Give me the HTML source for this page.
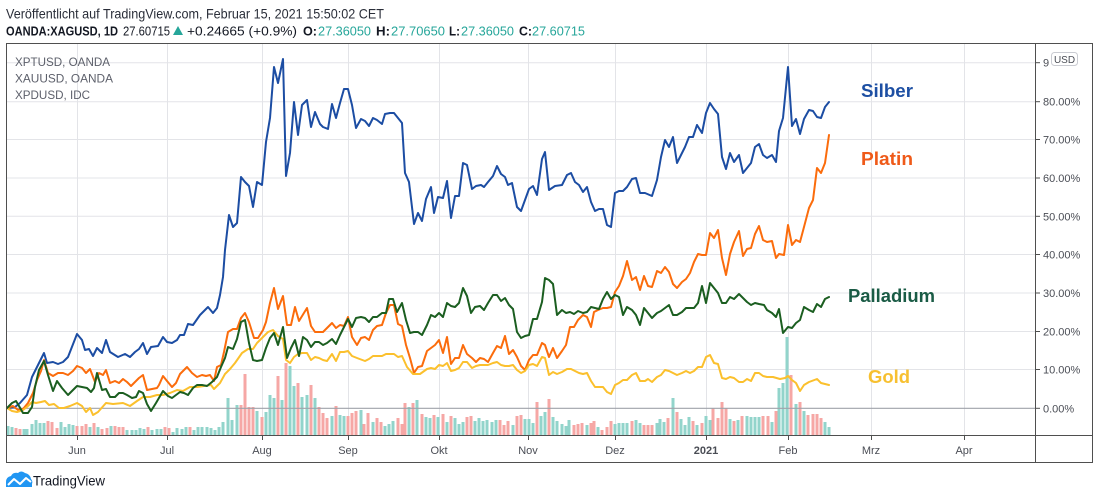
<!DOCTYPE html>
<html>
<head>
<meta charset="utf-8">
<style>
html,body{margin:0;padding:0;background:#fff;}
svg{display:block;}
text{font-family:"Liberation Sans",Arial,sans-serif;}
</style>
</head>
<body>
<svg width="1100" height="499" viewBox="0 0 1100 499" xmlns="http://www.w3.org/2000/svg">
<rect x="0" y="0" width="1100" height="499" fill="#fff"/>

<!-- header -->
<text x="6" y="18.5" font-size="14" fill="#2a2e39" textLength="378" lengthAdjust="spacingAndGlyphs">Veröffentlicht auf TradingView.com, Februar 15, 2021 15:50:02 CET</text>
<text x="6" y="35.5" font-size="12.5" font-weight="bold" fill="#131722" textLength="112" lengthAdjust="spacingAndGlyphs">OANDA:XAGUSD, 1D</text>
<text x="123" y="35.5" font-size="13" fill="#131722" textLength="47" lengthAdjust="spacingAndGlyphs">27.60715</text>
<polygon points="173,35 178,26 183,35" fill="#26a69a"/>
<text x="187" y="35.5" font-size="13" fill="#131722" textLength="110" lengthAdjust="spacingAndGlyphs">+0.24665 (+0.9%)</text>
<text x="303" y="35.5" font-size="13" font-weight="bold" fill="#131722" textLength="14" lengthAdjust="spacingAndGlyphs">O:</text>
<text x="318" y="35.5" font-size="13" fill="#26a69a" textLength="53" lengthAdjust="spacingAndGlyphs">27.36050</text>
<text x="376" y="35.5" font-size="13" font-weight="bold" fill="#131722" textLength="14" lengthAdjust="spacingAndGlyphs">H:</text>
<text x="391" y="35.5" font-size="13" fill="#26a69a" textLength="54" lengthAdjust="spacingAndGlyphs">27.70650</text>
<text x="449" y="35.5" font-size="13" font-weight="bold" fill="#131722" textLength="11" lengthAdjust="spacingAndGlyphs">L:</text>
<text x="461" y="35.5" font-size="13" fill="#26a69a" textLength="53" lengthAdjust="spacingAndGlyphs">27.36050</text>
<text x="519" y="35.5" font-size="13" font-weight="bold" fill="#131722" textLength="13" lengthAdjust="spacingAndGlyphs">C:</text>
<text x="532" y="35.5" font-size="13" fill="#26a69a" textLength="53" lengthAdjust="spacingAndGlyphs">27.60715</text>

<!-- grid horizontal -->
<g stroke="#e3e4e8" stroke-width="1">
<line x1="7" y1="62.7" x2="1035" y2="62.7"/>
<line x1="7" y1="101.7" x2="1035" y2="101.7"/>
<line x1="7" y1="139.5" x2="1035" y2="139.5"/>
<line x1="7" y1="178" x2="1035" y2="178"/>
<line x1="7" y1="216.3" x2="1035" y2="216.3"/>
<line x1="7" y1="254.5" x2="1035" y2="254.5"/>
<line x1="7" y1="293" x2="1035" y2="293"/>
<line x1="7" y1="331.5" x2="1035" y2="331.5"/>
<line x1="7" y1="369.5" x2="1035" y2="369.5"/>
</g>
<!-- grid vertical -->
<g stroke="#e3e4e8" stroke-width="1">
<line x1="77.5" y1="44" x2="77.5" y2="435"/>
<line x1="167.5" y1="44" x2="167.5" y2="435"/>
<line x1="262.5" y1="44" x2="262.5" y2="435"/>
<line x1="348.5" y1="44" x2="348.5" y2="435"/>
<line x1="439.5" y1="44" x2="439.5" y2="435"/>
<line x1="528.5" y1="44" x2="528.5" y2="435"/>
<line x1="615.5" y1="44" x2="615.5" y2="435"/>
<line x1="706.5" y1="44" x2="706.5" y2="435"/>
<line x1="788.5" y1="44" x2="788.5" y2="435"/>
<line x1="871.5" y1="44" x2="871.5" y2="435"/>
<line x1="964.5" y1="44" x2="964.5" y2="435"/>
</g>

<!-- volume bars -->
<path fill="none" stroke="#92d4cb" stroke-width="3" d="M8 435V426M12 435V427M24 435V429M27 435V429M32 435V424M36 435V420M40 435V423M44 435V423M61 435V422M65 435V427M69 435V424M73 435V425M90 435V427M98 435V427M111 435V426M127 435V430M132 435V430M136 435V430M140 435V428M144 435V429M152 435V430M157 435V429M161 435V429M173 435V432M177 435V428M182 435V429M186 435V427M194 435V430M198 435V427M202 435V427M207 435V427M211 435V428M215 435V430M219 435V427M223 435V422M228 435V398M232 435V420M237 435V405M257 435V411M266 435V412M270 435V395M274 435V398M282 435V400M290 435V366M294 435V386M302 435V397M307 435V395M315 435V398M332 435V416M340 435V415M344 435V416M361 435V410M373 435V422M385 435V426M389 435V424M393 435V421M409 435V407M417 435V400M426 435V417M430 435V418M438 435V417M447 435V422M455 435V418M459 435V424M463 435V422M475 435V421M479 435V418M483 435V421M487 435V420M492 435V422M496 435V420M513 435V425M525 435V419M529 435V419M533 435V423M541 435V416M545 435V412M553 435V417M557 435V421M562 435V424M566 435V426M569 435V420M587 435V425M598 435V427M615 435V424M619 435V423M623 435V423M627 435V423M636 435V420M640 435V423M657 435V423M660 435V419M664 435V422M673 435V398M681 435V419M685 435V425M689 435V417M697 435V425M706 435V416M710 435V420M730 435V419M738 435V420M747 435V416M751 435V417M755 435V417M759 435V417M772 435V422M779 435V388M783 435V383M787 435V337M796 435V404M804 435V411M825 435V422M829 435V427"/>
<path fill="none" stroke="#f6a7a5" stroke-width="3" d="M16 435V428M20 435V429M48 435V421M52 435V422M57 435V428M77 435V426M82 435V426M86 435V424M94 435V423M102 435V429M107 435V428M115 435V426M119 435V427M123 435V427M148 435V427M165 435V427M169 435V428M190 435V427M241 435V405M245 435V374M249 435V407M253 435V407M262 435V417M278 435V376M286 435V363M298 435V383M311 435V385M319 435V407M323 435V413M327 435V418M336 435V406M348 435V416M352 435V413M356 435V411M364 435V424M368 435V413M377 435V418M381 435V422M398 435V418M402 435V424M405 435V403M413 435V403M422 435V414M434 435V415M443 435V414M451 435V416M467 435V417M471 435V416M500 435V420M504 435V425M508 435V421M517 435V416M521 435V415M537 435V402M549 435V399M574 435V425M578 435V424M582 435V423M591 435V423M594 435V421M602 435V430M607 435V427M611 435V421M632 435V421M644 435V425M648 435V425M652 435V425M668 435V418M677 435V412M693 435V421M702 435V423M713 435V408M718 435V418M722 435V402M726 435V408M734 435V421M742 435V416M763 435V416M768 435V416M776 435V411M791 435V375M800 435V402M808 435V415M813 435V414M817 435V414M821 435V418"/>

<!-- zero line -->
<line x1="7" y1="408.3" x2="1035" y2="408.3" stroke="#9fa2aa" stroke-width="1.2"/>

<!-- series -->
<g fill="none" stroke-width="2" stroke-linejoin="round" stroke-linecap="round">
<polyline stroke="#1c4da3" points="7,408 15,407 20,403 27,395 32,377 37,367 42,357 44,353 47,363 53,362 58,364 63,362 68,357 77,334 82,340 85,350 89,349 93,356 97,348 102,353 106,340 110,352 118,357 125,354 130,357 135,352 139,349 143,343 147,354 151,347 158,346 163,337 167,342 172,343 177,340 180,335 184,335 188,324 193,325 200,315 205,310 208,307 213,313 217,308 220,295 223,277 225,250 229,215 233,227 237,223 241,177 245,182 249,186 253,207 257,182 262,185 266,142 270,118 274,67 278,83 283,59 286,176 290,153 294,102 298,135 302,105 307,100 311,127 315,112 320,124 323,127 328,129 332,104 336,118 340,103 344,89 348,89 352,105 356,128 361,119 365,121 369,126 373,118 377,120 382,124 385,114 390,113 394,113 398,118 402,123 405,173 409,182 414,224 418,213 422,221 426,199 431,187 434,213 438,197 443,198 447,181 451,218 455,196 459,196 463,163 467,165 472,189 476,186 481,185 484,187 488,182 493,176 497,166 501,174 505,177 508,185 512,183 517,207 521,211 525,200 529,189 533,186 537,195 542,159 545,152 549,190 555,186 562,185 567,175 571,173 575,182 579,185 583,192 587,187 591,202 595,211 599,209 603,209 607,225 611,227 615,193 619,191 623,191 627,187 632,179 636,178 640,193 645,193 652,196 657,180 661,157 665,140 669,147 673,137 677,163 681,155 685,147 689,137 693,137 697,125 702,133 706,113 710,103 714,109 718,114 722,157 726,169 730,153 734,162 739,155 743,173 747,168 751,163 755,147 759,144 763,155 767,158 772,155 776,162 779,131 783,118 788,67 792,126 796,119 800,134 804,119 809,110 813,111 817,117 821,118 825,107 829,102"/>
<polyline stroke="#fb6c0c" points="7,408 13,406 18,410 23,409 28,403 33,393 37,380 41,371 44,360 48,373 53,376 58,373 63,373 68,375 73,371 77,366 82,368 86,373 90,369 95,382 99,373 103,375 106,370 110,383 115,381 119,383 123,379 127,382 131,386 135,382 139,378 143,375 147,390 152,389 157,388 159,385 163,376 167,381 172,387 176,383 180,374 187,367 192,373 197,377 202,375 206,376 210,375 214,381 217,367 221,365 224,352 228,332 233,329 237,329 241,318 245,313 249,322 254,338 258,338 263,330 266,322 270,303 274,288 278,309 283,296 287,325 291,325 295,307 299,321 307,308 311,326 315,332 323,332 327,328 332,323 336,328 340,325 344,326 348,317 352,337 357,345 361,338 365,337 369,340 373,330 377,326 382,325 386,313 390,305 394,305 398,324 402,326 406,345 410,358 414,373 418,367 422,366 427,351 431,348 435,345 439,340 443,353 447,337 451,364 455,358 459,358 463,345 467,354 472,358 476,362 480,358 484,359 488,362 493,353 497,346 501,348 505,336 509,354 513,350 517,357 521,366 525,370 529,360 533,355 537,355 542,343 545,345 549,357 553,348 557,358 562,351 566,345 570,327 574,327 578,320 583,315 587,317 591,327 594,312 598,310 603,308 607,308 611,307 615,292 619,286 623,276 627,261 632,280 636,277 640,290 644,276 648,286 652,287 657,271 661,273 665,267 669,272 673,284 677,288 682,282 686,279 690,273 694,262 698,254 702,255 706,255 710,233 714,238 718,230 722,258 726,275 730,254 734,242 739,231 743,256 747,249 751,248 755,234 759,226 763,240 767,242 772,241 776,258 779,254 784,255 788,225 792,245 796,240 800,242 804,227 809,208 813,200 817,168 821,173 825,163 829,135"/>
<polyline stroke="#fbc02d" points="7,408 12,411 17,412 23,410 28,406 32,402 36,403 41,402 45,401 49,405 54,404 59,408 64,408 70,406 77,403 82,406 86,412 90,408 93,415 98,412 106,403 113,404 123,403 130,406 137,401 143,397 150,397 157,395 163,395 170,393 177,390 183,391 190,387 197,387 204,386 211,385 214,389 220,383 225,374 230,369 235,363 242,353 248,349 253,349 257,343 263,337 268,332 273,330 278,336 283,339 286,360 290,363 294,357 298,354 302,353 307,353 311,360 315,357 319,358 323,360 327,361 332,354 336,361 340,352 344,352 348,351 352,356 357,358 365,361 369,359 373,356 382,356 386,354 394,354 398,357 402,356 407,367 413,374 420,374 427,369 431,368 435,369 439,365 443,366 447,363 451,371 455,370 459,368 463,362 467,362 472,368 476,366 480,365 484,365 488,365 493,363 497,362 501,365 505,366 509,366 513,365 517,370 521,373 525,371 529,365 533,364 537,366 542,357 545,358 549,375 553,372 557,374 562,372 567,369 571,369 575,371 579,373 583,374 587,373 591,381 595,387 599,387 603,387 607,392 611,394 615,385 619,383 623,380 627,380 632,375 636,373 640,381 645,381 648,379 652,382 657,377 661,375 665,370 669,371 673,373 677,375 682,373 686,371 690,373 694,371 698,367 702,367 706,357 710,355 714,363 718,364 722,378 726,379 730,377 734,378 739,382 743,382 747,379 751,381 755,373 759,373 763,376 767,377 773,377 780,379 785,378 788,376 792,380 796,383 800,391 804,385 809,382 817,379 821,383 829,385"/>
<polyline stroke="#1b5e20" points="7,408 12,403 16,401 19,406 23,413 28,413 32,407 35,387 39,370 44,361 48,375 53,391 57,381 62,388 68,395 77,386 82,387 87,388 91,392 94,388 97,373 102,390 106,389 110,397 115,397 119,393 123,393 127,395 132,398 136,397 139,391 143,393 147,404 151,411 156,403 163,391 168,396 172,398 176,395 180,392 184,393 188,395 193,388 197,385 202,385 207,386 212,382 217,377 221,367 225,358 228,347 233,349 237,339 241,322 245,320 249,343 253,360 257,361 262,360 266,348 270,338 274,333 278,345 283,327 287,358 291,348 295,340 299,356 303,337 307,340 311,347 315,342 319,342 323,345 327,343 332,339 336,344 340,335 344,327 348,319 352,327 356,318 361,317 365,318 369,322 373,317 377,317 382,313 386,313 389,299 393,299 397,312 402,303 406,320 410,333 414,332 418,332 422,335 427,325 431,315 435,317 439,313 443,317 447,303 451,306 455,307 459,303 463,288 467,296 471,313 475,307 480,306 484,310 488,303 493,295 497,295 501,301 505,298 509,305 513,309 517,332 521,338 525,336 529,335 533,319 537,319 542,302 545,278 549,280 553,284 557,315 562,310 566,313 570,312 574,314 578,311 583,313 587,312 591,307 595,308 599,309 603,299 607,292 611,299 615,295 619,297 623,315 627,307 632,310 636,315 640,325 644,308 648,313 652,318 657,313 661,311 665,308 669,305 673,315 677,315 682,312 686,308 690,308 694,308 698,303 702,286 706,303 710,283 714,288 718,293 722,303 726,303 730,297 734,299 739,294 743,298 747,302 751,305 755,303 759,304 764,305 767,310 772,313 776,317 779,309 783,333 788,327 792,328 796,323 800,320 804,307 809,310 813,312 817,304 821,307 825,299 829,297"/>
</g>

<!-- legend top-left -->
<g font-size="12" fill="#5d606b">
<text x="15" y="66" textLength="95" lengthAdjust="spacingAndGlyphs">XPTUSD, OANDA</text>
<text x="15" y="82.5" textLength="98" lengthAdjust="spacingAndGlyphs">XAUUSD, OANDA</text>
<text x="15" y="99" textLength="75" lengthAdjust="spacingAndGlyphs">XPDUSD, IDC</text>
</g>

<!-- series labels -->
<g font-weight="bold" font-size="18">
<text x="861" y="97" fill="#1d4fa3" textLength="52" lengthAdjust="spacingAndGlyphs">Silber</text>
<text x="861" y="165" fill="#ef5a19" textLength="52" lengthAdjust="spacingAndGlyphs">Platin</text>
<text x="848" y="302" fill="#1a5b45" textLength="87" lengthAdjust="spacingAndGlyphs">Palladium</text>
<text x="868" y="383" fill="#f7c030" textLength="42" lengthAdjust="spacingAndGlyphs">Gold</text>
</g>

<!-- axes & frame -->
<g stroke="#4f4f4f" stroke-width="1" fill="none">
<rect x="6.5" y="43.5" width="1086" height="419"/>
<line x1="6.5" y1="435.5" x2="1092.5" y2="435.5"/>
<line x1="1035.5" y1="43.5" x2="1035.5" y2="462.5"/>
<!-- right ticks -->
<line x1="1035" y1="62.7" x2="1040" y2="62.7"/>
<line x1="1035" y1="101.7" x2="1040" y2="101.7"/>
<line x1="1035" y1="139.5" x2="1040" y2="139.5"/>
<line x1="1035" y1="178" x2="1040" y2="178"/>
<line x1="1035" y1="216.3" x2="1040" y2="216.3"/>
<line x1="1035" y1="254.5" x2="1040" y2="254.5"/>
<line x1="1035" y1="293" x2="1040" y2="293"/>
<line x1="1035" y1="331.5" x2="1040" y2="331.5"/>
<line x1="1035" y1="369.5" x2="1040" y2="369.5"/>
<line x1="1035" y1="408.3" x2="1040" y2="408.3"/>
<!-- bottom ticks -->
<line x1="77.5" y1="435" x2="77.5" y2="440"/>
<line x1="167.5" y1="435" x2="167.5" y2="440"/>
<line x1="262.5" y1="435" x2="262.5" y2="440"/>
<line x1="348.5" y1="435" x2="348.5" y2="440"/>
<line x1="439.5" y1="435" x2="439.5" y2="440"/>
<line x1="528.5" y1="435" x2="528.5" y2="440"/>
<line x1="615.5" y1="435" x2="615.5" y2="440"/>
<line x1="706.5" y1="435" x2="706.5" y2="440"/>
<line x1="788.5" y1="435" x2="788.5" y2="440"/>
<line x1="871.5" y1="435" x2="871.5" y2="440"/>
<line x1="964.5" y1="435" x2="964.5" y2="440"/>
</g>

<!-- right axis labels -->
<g font-size="11" fill="#4a4d55">
<text x="1043" y="66.7">9</text>
<text x="1043" y="105.7">80.00%</text>
<text x="1043" y="143.5">70.00%</text>
<text x="1043" y="182">60.00%</text>
<text x="1043" y="220.3">50.00%</text>
<text x="1043" y="258.5">40.00%</text>
<text x="1043" y="297">30.00%</text>
<text x="1043" y="335.5">20.00%</text>
<text x="1043" y="373.5">10.00%</text>
<text x="1043" y="412.3">0.00%</text>
</g>
<rect x="1051.5" y="52.5" width="26" height="13" rx="3" fill="#fff" stroke="#c9cbd1"/>
<text x="1064.5" y="63" font-size="10" fill="#4a4d55" text-anchor="middle">USD</text>

<!-- bottom axis labels -->
<g font-size="11" fill="#4a4d55" text-anchor="middle">
<text x="77" y="454">Jun</text>
<text x="167" y="454">Jul</text>
<text x="262" y="454">Aug</text>
<text x="348" y="454">Sep</text>
<text x="439" y="454">Okt</text>
<text x="528" y="454">Nov</text>
<text x="615" y="454">Dez</text>
<text x="706" y="454" font-weight="bold">2021</text>
<text x="788" y="454">Feb</text>
<text x="871" y="454">Mrz</text>
<text x="964" y="454">Apr</text>
</g>

<!-- logo -->
<path d="M6,487 L6,482 Q6,477 11,476 Q13,472 18,473 Q21,470 25,473 Q30,474 31,479 Q33,481 32,484 L32,487 Z" fill="#2196f3"/>
<polyline points="8,485 14,479 20,484 26,478 31,482" fill="none" stroke="#fff" stroke-width="2" stroke-linejoin="round"/>
<text x="33" y="485.5" font-size="14" fill="#131722" textLength="72" lengthAdjust="spacingAndGlyphs">TradingView</text>
</svg>
</body>
</html>
